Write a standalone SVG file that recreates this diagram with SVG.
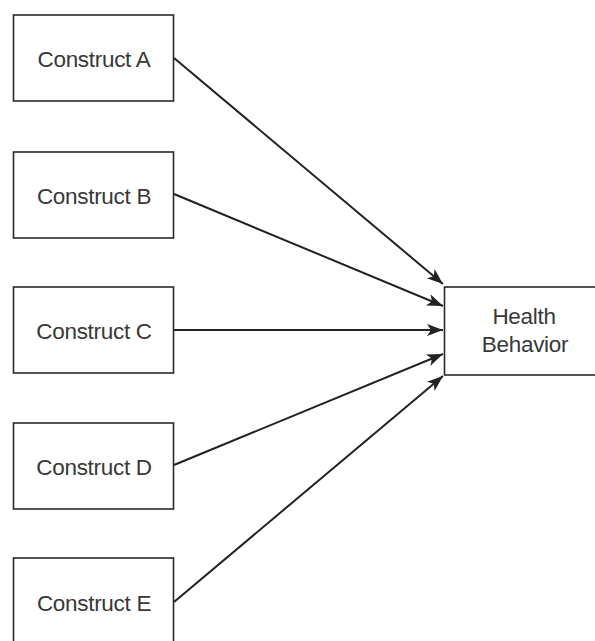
<svg xmlns="http://www.w3.org/2000/svg" width="595" height="641" viewBox="0 0 595 641">
<style>
.box{fill:#fff;stroke:#2a2a2a;stroke-width:1.6}
.lbl{font-family:"Liberation Sans",Arial,sans-serif;font-size:22.5px;letter-spacing:-0.3px;fill:#383838;text-anchor:middle}
.con{stroke:#222;stroke-width:2;fill:none;marker-end:url(#ah)}
</style>
<defs>
<marker id="ah" markerUnits="userSpaceOnUse" markerWidth="18" markerHeight="14" refX="16" refY="6" orient="auto">
<path d="M0,0 L16,6 L0,12 L4,6 Z" fill="#222"/>
</marker>
</defs>
<rect width="595" height="641" fill="#fff"/>
<g id="constructA"><rect class="box" x="13.5" y="15" width="160" height="86"/><text class="lbl" x="94" y="66.5">Construct A</text></g>
<g id="constructB"><rect class="box" x="13.5" y="152" width="160" height="86"/><text class="lbl" x="94" y="203.5">Construct B</text></g>
<g id="constructC"><rect class="box" x="13.5" y="287" width="160" height="86"/><text class="lbl" x="94" y="338.5">Construct C</text></g>
<g id="constructD"><rect class="box" x="13.5" y="423" width="160" height="86"/><text class="lbl" x="94" y="474.5">Construct D</text></g>
<g id="constructE"><rect class="box" x="13.5" y="558" width="160" height="90"/><text class="lbl" x="94" y="610.5">Construct E</text></g>
<g id="health"><rect class="box" x="444.5" y="287" width="160" height="88"/><text class="lbl" x="524" y="323.5">Health</text><text class="lbl" x="525" y="351.5">Behavior</text></g>
<g id="connectors">
<line class="con" x1="174" y1="58" x2="443" y2="284"/>
<line class="con" x1="174" y1="194" x2="443" y2="306"/>
<line class="con" x1="174" y1="330" x2="443" y2="330"/>
<line class="con" x1="174" y1="465" x2="443" y2="354"/>
<line class="con" x1="174" y1="602" x2="443" y2="376"/>
</g>
</svg>
